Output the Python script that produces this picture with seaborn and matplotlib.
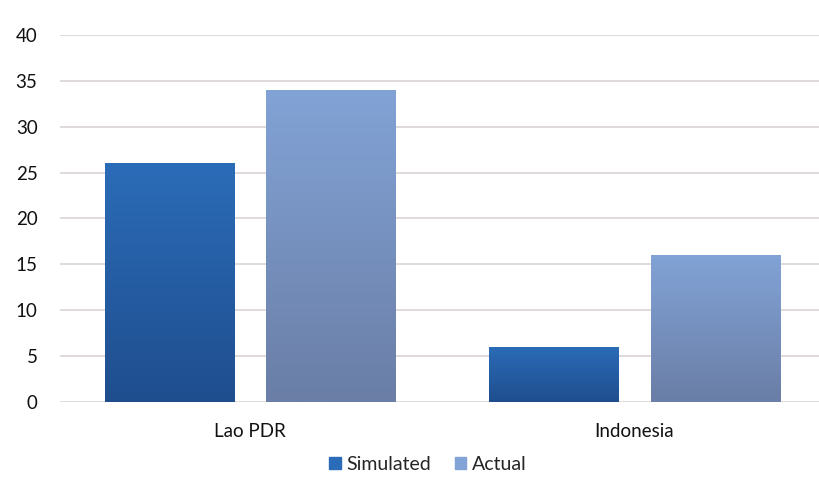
import numpy as np
import pandas as pd
import matplotlib
matplotlib.use("Agg")
import matplotlib.pyplot as plt
import seaborn as sns
from matplotlib.colors import LinearSegmentedColormap

countries = ["Lao PDR", "Indonesia"]
series = ["Simulated", "Actual"]
simulated = [26, 6]
actual = [34, 16]
yticks = [0, 5, 10, 15, 20, 25, 30, 35, 40]

df = pd.DataFrame({
    "country": countries * 2,
    "series": [series[0]] * 2 + [series[1]] * 2,
    "value": simulated + actual,
})

sns.set_theme(style="white")
plt.rcParams["font.family"] = ["Lato", "DejaVu Sans"]

# top and bottom shades of each series' gradient fill
shades = {
    "Simulated": ("#2b6cb8", "#1f4e8e"),
    "Actual": ("#82a3d6", "#6a7ea6"),
}
palette = {k: v[0] for k, v in shades.items()}

fig = plt.figure(figsize=(8.19, 4.78), dpi=100)
ax = fig.add_axes([0.073, 0.159, 0.927, 0.768])

sns.barplot(data=df, x="country", y="value", hue="series", order=countries,
            hue_order=series, palette=palette, width=0.84, gap=0.2,
            legend=True, ax=ax, zorder=3)

# paint a vertical gradient inside each bar
for container, name in zip(ax.containers, series):
    top, bottom = shades[name]
    cmap = LinearSegmentedColormap.from_list(name, [bottom, top])
    for bar in container:
        bar.set_facecolor("none")
        bar.set_edgecolor("none")
        x0, y0 = bar.get_x(), bar.get_y()
        w, h = bar.get_width(), bar.get_height()
        grad = np.linspace(0, 1, 256).reshape(-1, 1)
        im = ax.imshow(grad, cmap=cmap, origin="lower", aspect="auto",
                       extent=(x0, x0 + w, y0, y0 + h), zorder=3)
        im.set_clip_path(bar)

ax.set_xlim(-0.495, 1.48)
ax.set_ylim(0, 40)
ax.set_yticks(yticks)
ax.set_yticklabels([str(t) for t in yticks], fontsize=13.5, color="#111111")
ax.tick_params(axis="x", labelsize=13.5, colors="#111111", length=0, pad=15)
ax.tick_params(axis="y", length=0, pad=16)
ax.grid(axis="y", color="#dcd3d3", linewidth=1.2, zorder=0)
ax.set_axisbelow(True)
for s in ax.spines.values():
    s.set_visible(False)
ax.set_xlabel("")
ax.set_ylabel("")

handles = [plt.Rectangle((0, 0), 1, 1, color=shades[n][0]) for n in series]
ax.legend(handles, series, loc="upper center", bbox_to_anchor=(0.485, -0.11),
          ncol=2, frameon=False, fontsize=14, handlelength=0.6,
          handleheight=0.6, handletextpad=0.3, columnspacing=1.2,
          borderpad=0.2)

fig.savefig("out.png", dpi=100)
